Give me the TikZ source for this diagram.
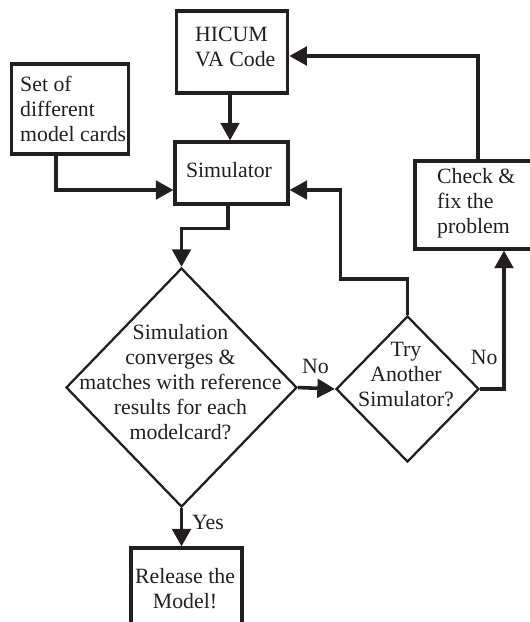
\documentclass[tikz,border=0pt]{standalone}
\usepackage{fontspec}
\setmainfont{Liberation Serif}
\usetikzlibrary{arrows.meta,shapes.geometric,calc}
\definecolor{ink}{HTML}{231F20}
\begin{document}
\begin{tikzpicture}[x=1pt,y=-1pt,
  every node/.style={inner sep=0pt, text=ink},
  font=\fontsize{21.8}{25}\selectfont,
  box/.style={draw=ink, line width=3.2pt, rectangle},
  decision/.style={draw=ink, line width=2.3pt, diamond},
  flow/.style={draw=ink, line width=3.6pt, -{Triangle[length=17.5pt,width=18.5pt]}},
  label/.style={align=left}]

\clip (0,0) rectangle (530,622);

% process boxes
\node[box, minimum width=111.5, minimum height=82] (hicum) at (232,52) {};
\node[box, minimum width=116.5, minimum height=90] (cards) at (70,109) {};
\node[box, minimum width=113, minimum height=62] (sim) at (231.5,173) {};
\node[box, minimum width=126, minimum height=88] (check) at (478,205) {};
\node[box, minimum width=111, minimum height=104] (release) at (186.5,600) {};

% decisions
\node[decision, minimum width=231, minimum height=239] (conv) at (181.5,387.5) {};
\node[decision, minimum width=143, minimum height=146] (other) at (407.5,389) {};

% box texts
\node[label, anchor=west] (hicumtxt) at (195,46.5)
  {\fontsize{21.8}{27.6}\selectfont HICUM\\VA Code};
\node[label, anchor=west] (cardstxt) at (20,109)
  {Set of\\different\\model cards};
\node (simtxt) at (229,170) {Simulator};
\node[label, anchor=west] (checktxt) at (437,203)
  {Check \&\\fix the\\problem};
\node[align=center] (releasetxt) at (185,589)
  {\fontsize{21.8}{32}\selectfont Release the\\Model!};

% decision texts
\node[align=center] (convtxt) at (180.5,382.5)
  {\fontsize{21.8}{24.2}\selectfont Simulation\\converges \&\\matches with reference\\results for each\\modelcard?};
\node[align=center] (othertxt) at (406,374.4)
  {\fontsize{21.8}{24.5}\selectfont Try\\Another\\Simulator?};

% connectors
\draw[flow] (hicum.south -| 230,0) -- (230,0 |- sim.north);
\draw[flow] ([xshift=-14pt]cards.south) |- ([yshift=-17pt]sim.west);
\draw[flow] (check.north) |- ([yshift=-4pt]hicum.east);
\draw[flow] ([xshift=-3.5pt]sim.south) -- ++(0,23) -| (conv.north);
\draw[flow] (conv.east) -- (other.west);
\draw[flow] (other.east) -| ([xshift=26pt]check.south);
\draw[flow] (other.north) -- ++(0,-36) -- ++(-67,0) |- ([yshift=-17pt]sim.east);
\draw[flow] (conv.south) -- (conv.south |- release.north);

% connector labels
\node (no1) at (315.5,366.7) {No};
\node (no2) at (484.3,357.6) {No};
\node (yes) at (208,522.6) {Yes};
\end{tikzpicture}
\end{document}
